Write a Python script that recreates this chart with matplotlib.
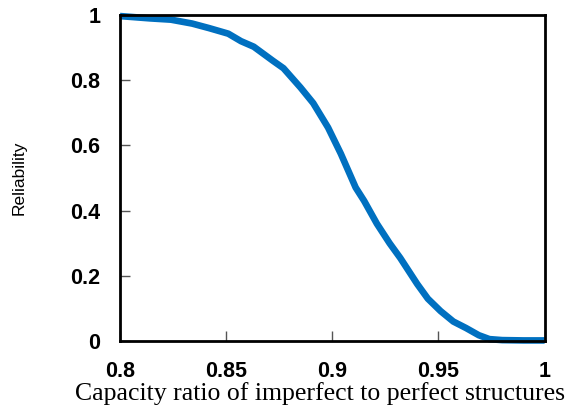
import matplotlib
matplotlib.use("Agg")
import matplotlib.pyplot as plt
import numpy as np

# capacity ratio vs reliability
ratio = [0.800, 0.814, 0.824, 0.834, 0.842, 0.851, 0.857, 0.863, 0.872, 0.877,
         0.885, 0.891, 0.898, 0.904, 0.911, 0.915, 0.921, 0.927, 0.932, 0.936,
         0.940, 0.945, 0.951, 0.957, 0.963, 0.969, 0.974, 0.980, 0.990, 1.000]
reliability = [0.997, 0.990, 0.986, 0.974, 0.960, 0.943, 0.920, 0.903, 0.860, 0.837,
               0.778, 0.730, 0.655, 0.575, 0.471, 0.430, 0.360, 0.300, 0.255, 0.215,
               0.175, 0.130, 0.092, 0.060, 0.040, 0.018, 0.006, 0.003, 0.002, 0.002]
xticks = [0.8, 0.85, 0.9, 0.95, 1.0]
xticklabels = ["0.8", "0.85", "0.9", "0.95", "1"]
yticks = [0, 0.2, 0.4, 0.6, 0.8, 1.0]
yticklabels = ["0", "0.2", "0.4", "0.6", "0.8", "1"]

fig = plt.figure(figsize=(5.7, 4.08), dpi=100)
ax = fig.add_axes([0.2105, 0.164, 0.745, 0.799])

ax.plot(ratio, reliability, color="#0070C0", lw=4.8, solid_capstyle="butt", clip_on=False)

ax.set_xlim(0.8, 1.0)
ax.set_ylim(0, 1.0)
ax.set_xticks(xticks)
ax.set_xticklabels(xticklabels)
ax.set_yticks(yticks)
ax.set_yticklabels(yticklabels)
for lab in ax.get_xticklabels() + ax.get_yticklabels():
    lab.set_fontfamily("Liberation Sans")
    lab.set_fontweight("bold")
    lab.set_fontsize(15.5)

ax.tick_params(direction="in", length=7, width=1, color="#555555")
ax.tick_params(axis="y", pad=14)
ax.tick_params(axis="x", pad=14)
for s in ax.spines.values():
    s.set_linewidth(2)

ax.set_ylabel("Reliability", fontfamily="Liberation Sans", fontsize=12.5)
ax.yaxis.set_label_coords(-0.22, 0.5)
ax.set_xlabel("Capacity ratio of imperfect to perfect structures",
              fontfamily="Liberation Serif", fontsize=18.5)
ax.xaxis.set_label_coords(0.47, -0.126)

fig.savefig("out.png", dpi=100)
